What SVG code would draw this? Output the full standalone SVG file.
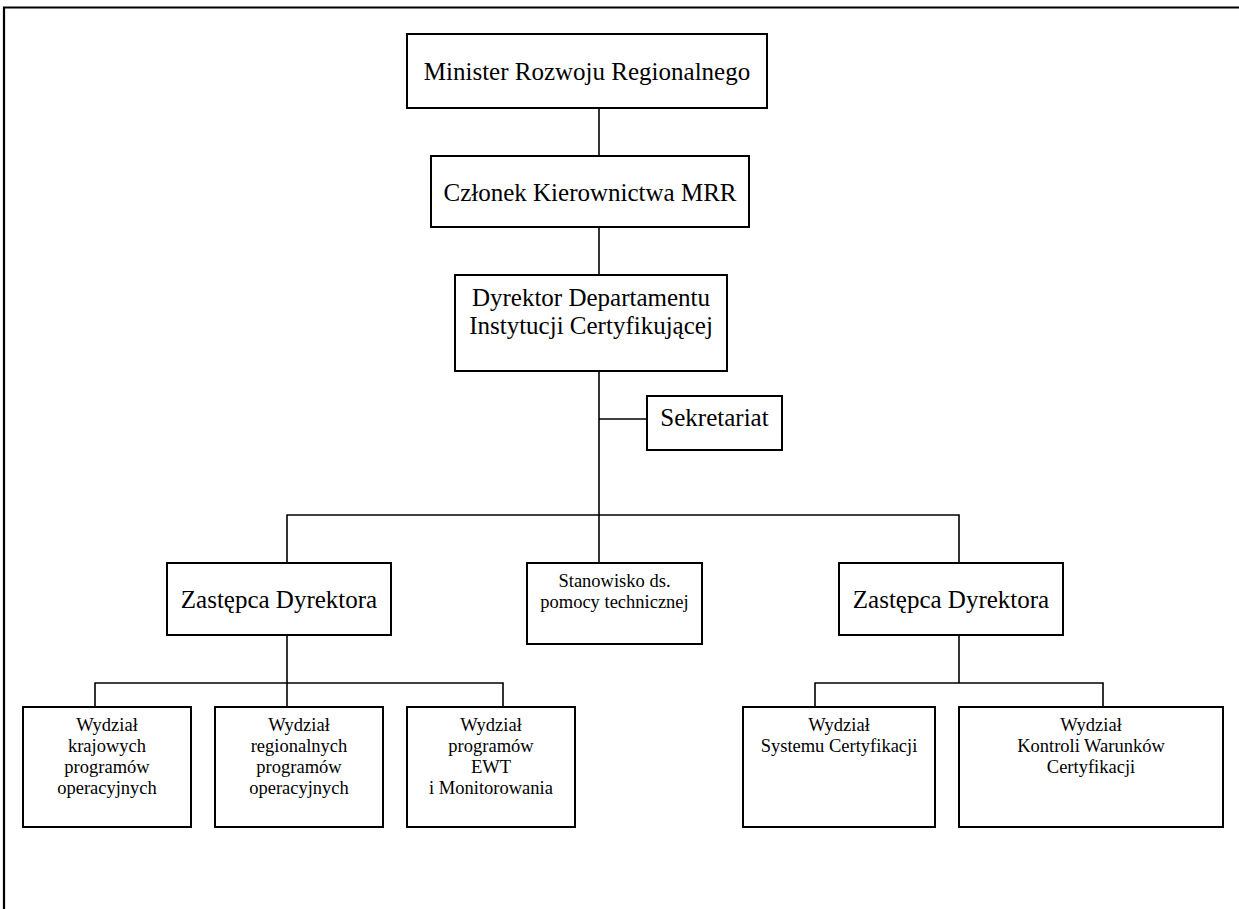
<svg xmlns="http://www.w3.org/2000/svg" width="1239" height="909" viewBox="0 0 1239 909">
<style>
.box{fill:#fff;stroke:#000;stroke-width:2}
.ln{fill:none;stroke:#000;stroke-width:1.6}
.frame{fill:none;stroke:#000;stroke-width:2.2}
text{font-family:"Liberation Serif","Times New Roman",serif;fill:#000;text-anchor:middle}
.big{font-size:25px}
.small{font-size:18.5px}
</style>
<rect width="1239" height="909" fill="#fff"/>
<path class="frame" d="M4,909 V7.5 H1239"/>
<g id="connectors">
<path class="ln" d="M599,108 V156"/>
<path class="ln" d="M599,227 V275"/>
<path class="ln" d="M599,371 V563"/>
<path class="ln" d="M599,419 H647"/>
<path class="ln" d="M287,563 V515 H959 V563"/>
<path class="ln" d="M287,635 V707"/>
<path class="ln" d="M95,707 V683 H503 V707"/>
<path class="ln" d="M959,635 V683"/>
<path class="ln" d="M815,707 V683 H1103 V707"/>
</g>
<g id="minister">
<rect class="box" x="407" y="34" width="360" height="74"/>
<text class="big" x="587" y="80">Minister Rozwoju Regionalnego</text>
</g>
<g id="czlonek">
<rect class="box" x="431" y="156" width="318" height="71"/>
<text class="big" x="590" y="201">Członek Kierownictwa MRR</text>
</g>
<g id="dyrektor">
<rect class="box" x="455" y="275" width="272" height="96"/>
<text class="big" x="591" y="306">Dyrektor Departamentu</text>
<text class="big" x="591" y="334">Instytucji Certyfikującej</text>
</g>
<g id="sekretariat">
<rect class="box" x="647" y="396" width="135" height="54"/>
<text class="big" x="714.5" y="426">Sekretariat</text>
</g>
<g id="zastepca1">
<rect class="box" x="167" y="563" width="224" height="72"/>
<text class="big" x="279" y="608">Zastępca Dyrektora</text>
</g>
<g id="stanowisko">
<rect class="box" x="527" y="563" width="175" height="81"/>
<text class="small" x="614.5" y="587">Stanowisko ds.</text>
<text class="small" x="614.5" y="608">pomocy technicznej</text>
</g>
<g id="zastepca2">
<rect class="box" x="839" y="563" width="224" height="72"/>
<text class="big" x="951" y="608">Zastępca Dyrektora</text>
</g>
<g id="wydzial1">
<rect class="box" x="23" y="707" width="168" height="120"/>
<text class="small" x="107" y="731">Wydział</text>
<text class="small" x="107" y="752">krajowych</text>
<text class="small" x="107" y="773">programów</text>
<text class="small" x="107" y="794">operacyjnych</text>
</g>
<g id="wydzial2">
<rect class="box" x="215" y="707" width="168" height="120"/>
<text class="small" x="299" y="731">Wydział</text>
<text class="small" x="299" y="752">regionalnych</text>
<text class="small" x="299" y="773">programów</text>
<text class="small" x="299" y="794">operacyjnych</text>
</g>
<g id="wydzial3">
<rect class="box" x="407" y="707" width="168" height="120"/>
<text class="small" x="491" y="731">Wydział</text>
<text class="small" x="491" y="752">programów</text>
<text class="small" x="491" y="773">EWT</text>
<text class="small" x="491" y="794">i Monitorowania</text>
</g>
<g id="wydzial4">
<rect class="box" x="743" y="707" width="192" height="120"/>
<text class="small" x="839" y="731">Wydział</text>
<text class="small" x="839" y="752">Systemu Certyfikacji</text>
</g>
<g id="wydzial5">
<rect class="box" x="959" y="707" width="264" height="120"/>
<text class="small" x="1091" y="731">Wydział</text>
<text class="small" x="1091" y="752">Kontroli Warunków</text>
<text class="small" x="1091" y="773">Certyfikacji</text>
</g>
</svg>
